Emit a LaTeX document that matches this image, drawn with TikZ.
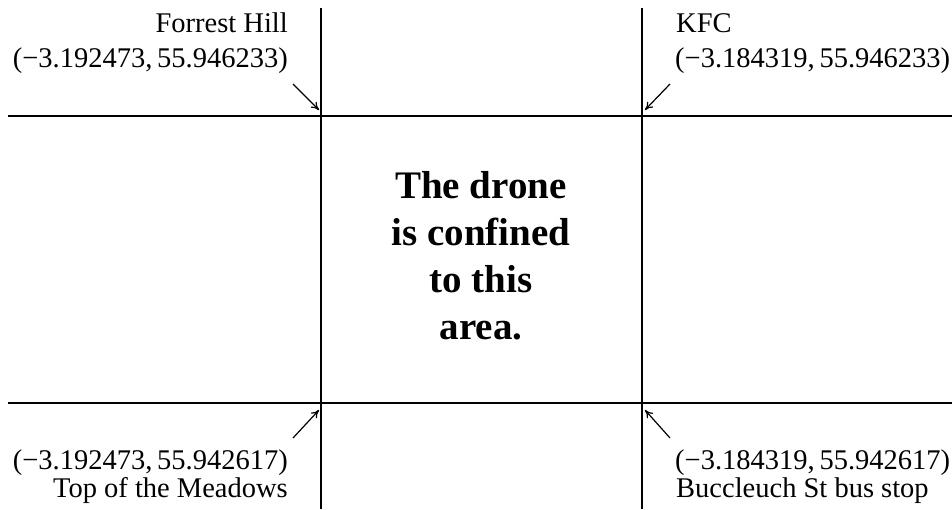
\documentclass[tikz,border=0pt]{standalone}
\usepackage{fontspec}
\setmainfont{Liberation Serif}
\usetikzlibrary{arrows.meta}
\tikzset{
  lbl/.style={inner sep=0pt, font=\fontsize{28.5}{34}\selectfont},
  grid/.style={line width=1.2pt, black},
  pointer/.style={line width=1.2pt, -{To[length=8pt,width=8pt]}},
}
\begin{document}
\begin{tikzpicture}[x=1pt,y=-1pt]
\useasboundingbox (0,0) rectangle (952,509);
% grid line end points
\coordinate (v1t) at (321,8);  \coordinate (v1b) at (321,509);
\coordinate (v2t) at (642,8);  \coordinate (v2b) at (642,509);
\coordinate (h1l) at (8,116);  \coordinate (h1r) at (952,116);
\coordinate (h2l) at (8,403);  \coordinate (h2r) at (952,403);
\draw[grid] (v1t) -- (v1b);
\draw[grid] (v2t) -- (v2b);
\draw[grid] (h1l) -- (h1r);
\draw[grid] (h2l) -- (h2r);
% labels
\node[lbl, anchor=base east] (fh) at (288,32) {Forrest Hill};
\node[lbl, anchor=base east] (fhc) at (288,67) {(−3.192473,\,55.946233)};
\node[lbl, anchor=base west] (kfc) at (676,32) {KFC};
\node[lbl, anchor=base west] (kfcc) at (675,67) {(−3.184319,\,55.946233)};
\node[lbl, anchor=base east] (tmc) at (288,469) {(−3.192473,\,55.942617)};
\node[lbl, anchor=base east] (tm) at (288,497) {Top of the Meadows};
\node[lbl, anchor=base west] (bsc) at (675,469) {(−3.184319,\,55.942617)};
\node[lbl, anchor=base west] (bs) at (676,497) {Buccleuch St bus stop};
\node[inner sep=0pt, align=center, font=\fontsize{39}{47}\selectfont\bfseries] (ctr) at (481,256)
  {The drone\\is confined\\to this\\area.};
% arrows
\coordinate (a1s) at (293,84);  \coordinate (a1e) at (319,110);
\coordinate (a2s) at (670,84);  \coordinate (a2e) at (645,110);
\coordinate (a3s) at (293,438); \coordinate (a3e) at (319,410);
\coordinate (a4s) at (670,438); \coordinate (a4e) at (645,410);
\draw[pointer] (a1s) -- (a1e);
\draw[pointer] (a2s) -- (a2e);
\draw[pointer] (a3s) -- (a3e);
\draw[pointer] (a4s) -- (a4e);
\end{tikzpicture}
\end{document}
